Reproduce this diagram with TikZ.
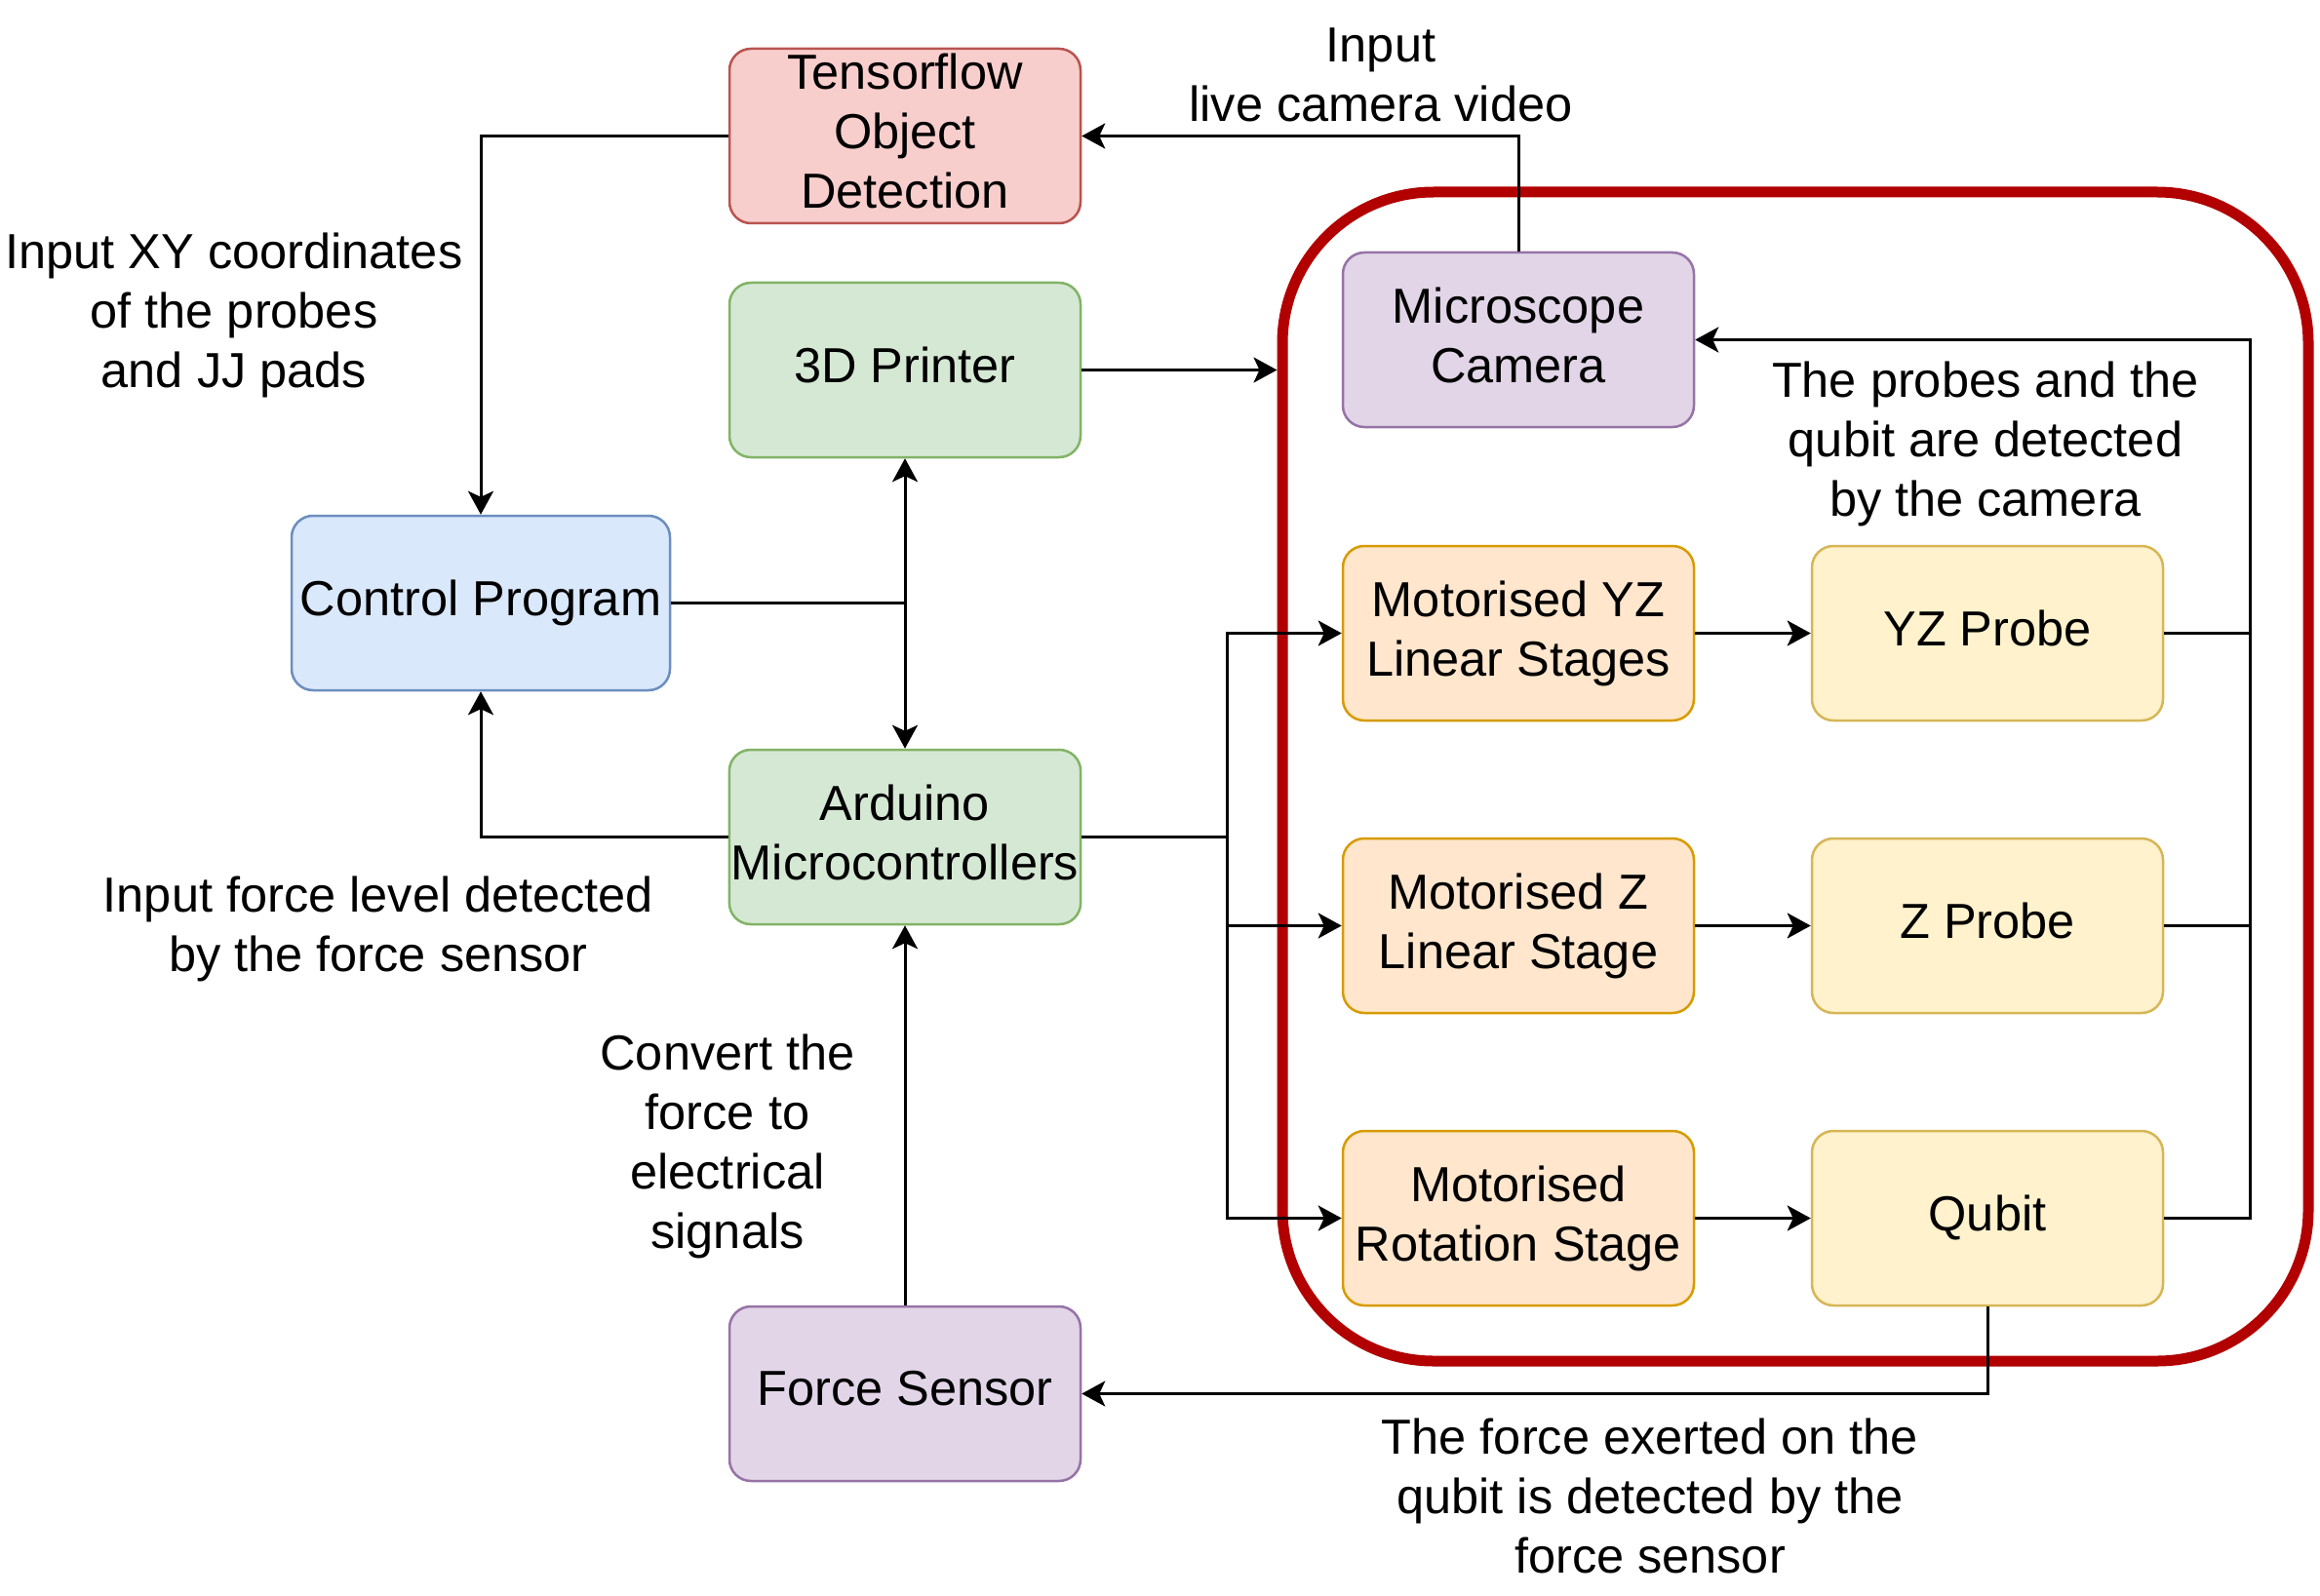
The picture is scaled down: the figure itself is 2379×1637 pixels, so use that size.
\documentclass[tikz,border=0pt]{standalone}
\usepackage{fontspec}
\setmainfont{Liberation Sans}
\usetikzlibrary{arrows.meta}
\definecolor{redF}{HTML}{F8CECC}\definecolor{redD}{HTML}{B85450}
\definecolor{grnF}{HTML}{D5E8D4}\definecolor{grnD}{HTML}{82B366}
\definecolor{bluF}{HTML}{DAE8FC}\definecolor{bluD}{HTML}{6C8EBF}
\definecolor{purF}{HTML}{E1D5E7}\definecolor{purD}{HTML}{9673A6}
\definecolor{orgF}{HTML}{FFE6CC}\definecolor{orgD}{HTML}{D79B00}
\definecolor{yelF}{HTML}{FFF2CC}\definecolor{yelD}{HTML}{D6B656}
\definecolor{contD}{HTML}{B20000}
\tikzset{
  blk/.style={rounded corners=22pt, line width=2.5pt, minimum width=360pt, minimum height=179pt, align=center, inner sep=2pt,
    font=\fontsize{50.5}{61}\selectfont, execute at end node={\vphantom{g}}},
  tfbox/.style={blk, fill=redF, draw=redD},
  gbox/.style={blk, fill=grnF, draw=grnD},
  bbox/.style={blk, fill=bluF, draw=bluD},
  pbox/.style={blk, fill=purF, draw=purD},
  obox/.style={blk, fill=orgF, draw=orgD},
  ybox/.style={blk, fill=yelF, draw=yelD},
  lbl/.style={align=center, inner sep=0pt, font=\fontsize{50.5}{61}\selectfont},
  arr/.style={line width=3pt, -{Stealth[length=24pt,width=26pt,inset=6pt]}},
  ln/.style={line width=3pt},
}
\begin{document}
\begin{tikzpicture}[x=1pt,y=-1pt]
\useasboundingbox (0,0) rectangle (2379,1637);
\node[draw=contD, line width=11pt, rounded corners=155pt, minimum width=1052pt, minimum height=1199pt] (cont) at (1841,796.5) {};

\node[tfbox] (tf) at (928,139.5) {Tensorflow\\Object\\Detection};
\node[gbox] (pr) at (928,379.5) {3D Printer};
\node[bbox, minimum width=388pt] (ctrl) at (493,618.5) {Control Program};
\node[gbox] (ard) at (928,858.5) {Arduino\\Microcontrollers};
\node[pbox] (fs) at (928,1429.5) {Force Sensor};
\node[pbox] (cam) at (1557,348.5) {Microscope\\Camera};
\node[obox] (myz) at (1557,649.5) {Motorised YZ\\Linear Stages};
\node[ybox] (yzp) at (2038,649.5) {YZ Probe};
\node[obox] (mz) at (1557,949.5) {Motorised Z\\Linear Stage};
\node[ybox] (zp) at (2038,949.5) {Z Probe};
\node[obox] (mr) at (1557,1249.5) {Motorised\\Rotation Stage};
\node[ybox] (qb) at (2038,1249.5) {Qubit};

\node[lbl] (l1) at (1416,77) {Input\\live camera video};
\node[lbl] (l2) at (240,323) {Input XY coordinates\\of the probes\\and JJ pads};
\node[lbl] (l3) at (388,953) {Input force level detected\\by the force sensor};
\node[lbl] (l4) at (746,1176) {Convert the\\force to\\electrical\\signals};
\node[lbl] (l5) at (2036,455) {The probes and the\\qubit are detected\\by the camera};
\node[lbl] (l6) at (1692,1534) {The force exerted on the\\qubit is detected by the\\force sensor};

\draw[arr] (tf.west) -| (ctrl.north);
\draw[arr] (cam.north) |- (tf.east);
\draw[arr] (pr.east) -- (pr.east -| cont.west);
\coordinate (j) at (ctrl.east -| ard.north);
\draw[ln] (ctrl.east) -- (j);
\draw[arr] (j) -- (pr.south);
\draw[arr] (j) -- (ard.north);
\draw[arr] (ard.west) -| (ctrl.south);
\coordinate (bx) at (1258,858.5);
\draw[ln] (ard.east) -- (bx);
\draw[arr] (bx) |- (myz.west);
\draw[arr] (bx) |- (mz.west);
\draw[arr] (bx) |- (mr.west);
\draw[arr] (myz) -- (yzp);
\draw[arr] (mz) -- (zp);
\draw[arr] (mr) -- (qb);
\coordinate (rx) at (2307,348.5);
\draw[ln] (yzp.east) -- (yzp.east -| rx);
\draw[ln] (zp.east) -- (zp.east -| rx);
\draw[arr] (qb.east) -| (rx) -- (cam.east);
\draw[arr] (qb.south) |- (fs.east);
\draw[arr] (fs.north) -- (ard.south);
\end{tikzpicture}
\end{document}
